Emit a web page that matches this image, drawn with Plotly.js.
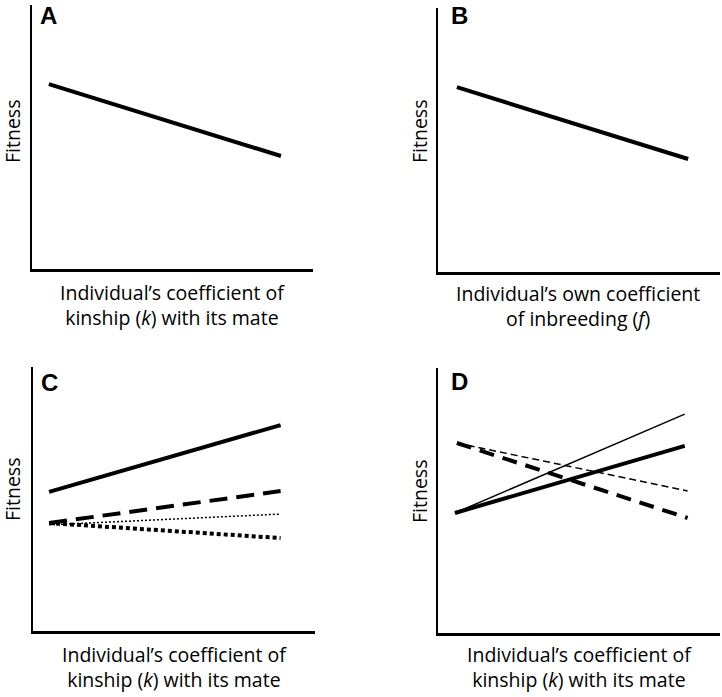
<!DOCTYPE html>
<html>
<head>
<meta charset="utf-8">
<script src="https://cdn.plot.ly/plotly-3.0.1.min.js"></script>
<style>html,body{margin:0;padding:0;background:#fff;}#chart{width:722px;height:697px;}</style>
</head>
<body>
<div id="chart"></div>
<script>
// x positions (start, end) along the kinship / inbreeding axis, arbitrary units 0-10
const xA = [0.6, 8.86];
const fitA = [7.0, 4.28];

const xB = [0.67, 8.87];
const fitB = [7.0, 4.28];

const xC = [0.57, 8.78];
const fitC_solid = [5.27, 7.8];
const fitC_dash = [4.09, 5.3];
const fitC_fineDot = [4.02, 4.43];
const fitC_thickDot = [4.09, 3.52];

const xD = [0.6, 8.75];
const fitD_thinSolid = [4.53, 8.26];
const fitD_thickSolid = [4.53, 7.06];
const xD2 = [0.67, 8.85];
const fitD_thinDash = [7.17, 5.36];
const fitD_thickDash = [7.17, 4.34];

const panelLetters = ["A", "B", "C", "D"];
const yTitle = "Fitness";
const xTitleKinship = "Individual’s coefficient of<br>kinship (<i>k</i>) with its mate";
const xTitleInbreeding = "Individual’s own coefficient<br>of inbreeding (<i>f</i>)";

const W = 722, H = 697;
const px = v => v / W;
const py = v => 1 - v / H;

function ln(x, y, xa, ya, width, dash) {
  return {x: x, y: y, xaxis: xa, yaxis: ya, type: 'scatter', mode: 'lines',
    line: {color: '#000', width: width, dash: dash || 'solid'}, hoverinfo: 'skip', showlegend: false};
}

const traces = [
  ln(xA, fitA, 'x', 'y', 4),
  ln(xB, fitB, 'x2', 'y2', 4),
  ln(xC, fitC_solid, 'x3', 'y3', 4),
  ln(xC, fitC_dash, 'x3', 'y3', 4, '18px,9px'),
  ln(xC, fitC_fineDot, 'x3', 'y3', 1.5, '2px,2px'),
  ln(xC, fitC_thickDot, 'x3', 'y3', 4, '4px,3px'),
  ln(xD, fitD_thinSolid, 'x4', 'y4', 1.5),
  ln(xD, fitD_thickSolid, 'x4', 'y4', 4),
  ln(xD2, fitD_thinDash, 'x4', 'y4', 1.5, '7px,4px'),
  ln(xD2, fitD_thickDash, 'x4', 'y4', 4, '15px,9px')
];

function ax(domain, anchor) {
  return {domain: domain, anchor: anchor, range: [0, 10], showline: true, linecolor: '#000', linewidth: 2.5,
    showgrid: false, zeroline: false, showticklabels: false, ticks: '', fixedrange: true};
}

const doms = [
  {x: [px(32), px(313)], y: [py(269), py(5)]},
  {x: [px(438), px(720)], y: [py(272), py(8)]},
  {x: [px(33), px(315)], y: [py(631), py(367)]},
  {x: [px(438), px(720)], y: [py(633), py(368)]}
];

const layout = {
  width: W, height: H,
  margin: {l: 0, r: 0, t: 0, b: 0},
  paper_bgcolor: '#fff', plot_bgcolor: 'rgba(0,0,0,0)',
  font: {family: '"Open Sans", sans-serif', color: '#000', size: 19.5},
  showlegend: false,
  xaxis: ax(doms[0].x, 'y'), yaxis: ax(doms[0].y, 'x'),
  xaxis2: ax(doms[1].x, 'y2'), yaxis2: ax(doms[1].y, 'x2'),
  xaxis3: ax(doms[2].x, 'y3'), yaxis3: ax(doms[2].y, 'x3'),
  xaxis4: ax(doms[3].x, 'y4'), yaxis4: ax(doms[3].y, 'x4'),
  annotations: []
};

const letterPos = [[48, 16], [459, 16], [49, 383], [459, 381]];
const fitPos = [[12, 132], [419, 132], [12, 490], [419, 492]];
const xtPos = [[172, 305], [578, 306], [174, 667], [579, 667]];
const xTitles = [xTitleKinship, xTitleInbreeding, xTitleKinship, xTitleKinship];

for (let i = 0; i < 4; i++) {
  layout.annotations.push({text: '<b>' + panelLetters[i] + '</b>', xref: 'paper', yref: 'paper',
    x: px(letterPos[i][0]), y: py(letterPos[i][1]), xanchor: 'center', yanchor: 'middle', showarrow: false,
    font: {family: 'Liberation Sans, Arial, sans-serif', size: 24, color: '#000'}});
  layout.annotations.push({text: yTitle, xref: 'paper', yref: 'paper', textangle: -90,
    x: px(fitPos[i][0]), y: py(fitPos[i][1]), xanchor: 'center', yanchor: 'middle', showarrow: false,
    font: {size: 19.5}});
  layout.annotations.push({text: xTitles[i], xref: 'paper', yref: 'paper',
    x: px(xtPos[i][0]), y: py(xtPos[i][1]), xanchor: 'center', yanchor: 'middle', showarrow: false,
    align: 'center', font: {size: 19.5}});
}

Plotly.newPlot('chart', traces, layout, {displayModeBar: false, staticPlot: true});
</script>
</body>
</html>
